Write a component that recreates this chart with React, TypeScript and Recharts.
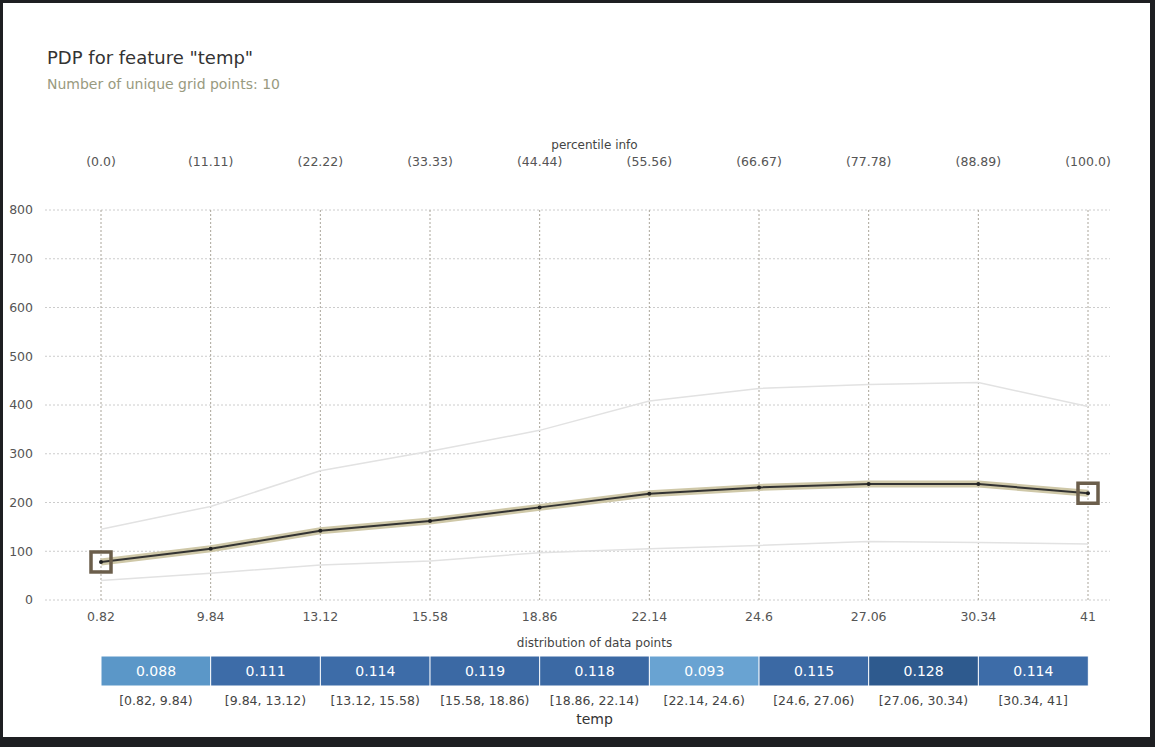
import React from "react";
import { ComposedChart, Line, XAxis, YAxis, CartesianGrid, Bar, Cell, LabelList } from "recharts";

const gridLabels = ["0.82", "9.84", "13.12", "15.58", "18.86", "22.14", "24.6", "27.06", "30.34", "41"];
const percentileLabels = ["(0.0)", "(11.11)", "(22.22)", "(33.33)", "(44.44)", "(55.56)", "(66.67)", "(77.78)", "(88.89)", "(100.0)"];
const meanValues = [78, 105, 142, 162, 190, 218, 231, 238, 238, 219];
const upperValues = [145, 192, 265, 305, 348, 408, 434, 442, 446, 397];
const lowerValues = [40, 55, 72, 80, 97, 105, 112, 120, 118, 115];
const binLabels = ["[0.82, 9.84)", "[9.84, 13.12)", "[13.12, 15.58)", "[15.58, 18.86)", "[18.86, 22.14)", "[22.14, 24.6)", "[24.6, 27.06)", "[27.06, 30.34)", "[30.34, 41]"];
const binShares = [0.088, 0.111, 0.114, 0.119, 0.118, 0.093, 0.115, 0.128, 0.114];
const binColors = ["#5b97c8", "#3d6ca8", "#3d6ca8", "#3b69a4", "#3b69a4", "#69a3d2", "#3b69a4", "#2e5a8e", "#3d6ca8"];

const mainData = gridLabels.map((g, i) => ({ i, mean: meanValues[i], upper: upperValues[i], lower: lowerValues[i] }));
const binData = binLabels.map((b, i) => ({ bin: b, share: binShares[i], full: 1 }));

const font = "'DejaVu Sans', sans-serif";
const padL = 56;
const padR = 22;

const EndDot = (props: any) => {
  const { cx, cy, index } = props;
  const isEnd = index === 0 || index === gridLabels.length - 1;
  return (
    <g>
      {isEnd && <rect x={cx - 10} y={cy - 10} width={20} height={20} fill="none" stroke="#6b5e4b" strokeWidth={3.5} />}
      <circle cx={cx} cy={cy} r={2} fill="#222" />
    </g>
  );
};

const vGen = (args: any) => {
  const off = args.offset;
  const n = gridLabels.length - 1;
  const span = off.width - padL - padR;
  return gridLabels.map((_, i) => off.left + padL + (i * span) / n);
};

export default function App() {
  return (
    <div style={{ position: "fixed", left: 0, top: 0, width: 1155, height: 747, background: "#1e1f22", fontFamily: font }}>
      <div style={{ position: "absolute", left: 3, top: 3, width: 1147, height: 734, background: "#fff" }} />
      <div style={{ position: "absolute", left: 47, top: 47, fontSize: 18, color: "#333" }}>PDP for feature "temp"</div>
      <div style={{ position: "absolute", left: 47, top: 76, fontSize: 14, color: "#999a80" }}>Number of unique grid points: 10</div>
      <div style={{ position: "absolute", left: 0, width: 1189, top: 138, fontSize: 12, color: "#444", textAlign: "center" }}>percentile info</div>
      <div style={{ position: "absolute", left: 0, width: 1189, top: 636, fontSize: 12, color: "#444", textAlign: "center" }}>distribution of data points</div>
      <div style={{ position: "absolute", left: 0, width: 1189, top: 711, fontSize: 14, color: "#333", textAlign: "center" }}>temp</div>
      <div style={{ position: "absolute", left: 0, top: 0 }}>
        <ComposedChart width={1155} height={640} data={mainData} margin={{ top: 150, right: 45, bottom: 10, left: 0 }}>
          <CartesianGrid stroke="#ccc" strokeDasharray="2 2" vertical={false} />
          <XAxis xAxisId="top" orientation="top" dataKey="i" type="number" domain={[0, 9]} ticks={[0,1,2,3,4,5,6,7,8,9]}
            tickFormatter={(v: number) => percentileLabels[v]} padding={{ left: padL, right: padR }} height={60}
            axisLine={false} tickLine={false} tickMargin={38} tick={{ fontSize: 12.5, fill: "#555", fontFamily: font }} />
          <XAxis xAxisId="bot" dataKey="i" type="number" domain={[0, 9]} ticks={[0,1,2,3,4,5,6,7,8,9]}
            tickFormatter={(v: number) => gridLabels[v]} padding={{ left: padL, right: padR }} height={30}
            axisLine={false} tickLine={false} tickMargin={6} tick={{ fontSize: 12.5, fill: "#555", fontFamily: font }} />
          <YAxis domain={[0, 800]} ticks={[0,100,200,300,400,500,600,700,800]} width={45} axisLine={false} tickLine={false}
            tickMargin={6} tick={{ fontSize: 12.5, fill: "#555", fontFamily: font }} />
          <CartesianGrid xAxisId="bot" stroke="#aaa59a" strokeDasharray="2 2" horizontal={false} verticalCoordinatesGenerator={vGen} />
          <Line xAxisId="bot" dataKey="upper" stroke="#e2e2e2" strokeWidth={1.5} dot={false} isAnimationActive={false} />
          <Line xAxisId="bot" dataKey="lower" stroke="#e2e2e2" strokeWidth={1.5} dot={false} isAnimationActive={false} />
          <Line xAxisId="bot" dataKey="mean" stroke="#cfc8a8" strokeWidth={7} dot={false} isAnimationActive={false} />
          <Line xAxisId="bot" dataKey="mean" stroke="#333" strokeWidth={2} dot={<EndDot />} isAnimationActive={false} />
        </ComposedChart>
      </div>
      <div style={{ position: "absolute", left: 0, top: 656 }}>
        <ComposedChart width={1155} height={60} data={binData} margin={{ top: 0, right: 67, bottom: 0, left: 101 }} barCategoryGap={0}>
          <XAxis dataKey="bin" height={30} axisLine={false} tickLine={false} tickMargin={4} interval={0}
            tick={{ fontSize: 12.5, fill: "#444", fontFamily: font }} />
          <YAxis hide domain={[0, 1]} />
          <Bar dataKey="full" stroke="#fff" strokeWidth={1} isAnimationActive={false}>
            {binData.map((d, i) => <Cell key={i} fill={binColors[i]} />)}
            <LabelList dataKey="share" position="center" fill="#fff" fontSize={14} fontFamily={font} />
          </Bar>
        </ComposedChart>
      </div>
    </div>
  );
}
